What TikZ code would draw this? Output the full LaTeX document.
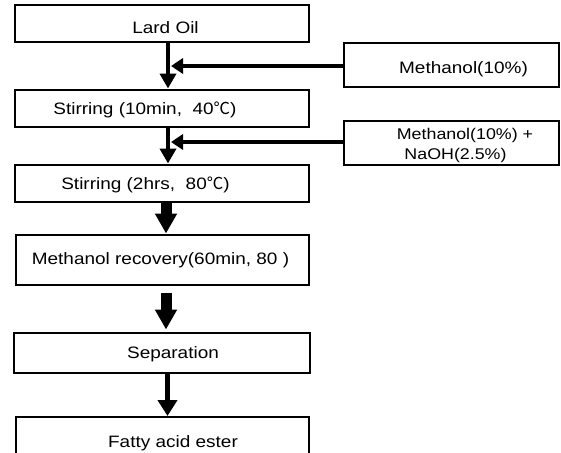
\documentclass[tikz,border=0pt]{standalone}
\usepackage{fontspec}
\setmainfont{Liberation Sans}[FakeStretch=1.15]
\newfontfamily\cjk{Noto Sans CJK KR}
\usetikzlibrary{arrows.meta}
\begin{document}
\begin{tikzpicture}[x=1pt,y=-1pt,
  box/.style={draw=black, line width=2pt, fill=white, inner sep=0pt},
  txt/.style={anchor=base, inner sep=0pt, font=\fontsize{16.5}{18}\selectfont},
  smalltxt/.style={anchor=base, inner sep=0pt, font=\fontsize{15.5}{17}\selectfont},
  thinarr/.style={line width=4pt, -{Triangle[length=15pt,width=16pt]}},
  thickarr/.style={line width=11pt, -{Triangle[length=20pt,width=21pt]}},
  midarr/.style={line width=5pt, -{Triangle[length=16pt,width=19pt]}},
  sidearr/.style={line width=4.5pt, -{Triangle[length=12pt,width=15pt]}}]
\useasboundingbox (0,0) rectangle (561,452);
% boxes
\node[box, minimum width=294pt, minimum height=37pt] (lard) at (161.5,24) {};
\node[box, minimum width=294pt, minimum height=37pt] (stir1) at (161.5,108) {};
\node[box, minimum width=294pt, minimum height=37pt] (stir2) at (161.5,183) {};
\node[box, minimum width=293pt, minimum height=50pt] (recov) at (162,259.5) {};
\node[box, minimum width=296pt, minimum height=40pt] (sep) at (161.5,352.5) {};
\node[box, minimum width=293pt, minimum height=60pt] (fatty) at (162,447) {};
\node[box, minimum width=215pt, minimum height=43pt] (meth1) at (451,65) {};
\node[box, minimum width=215pt, minimum height=44pt] (meth2) at (451,142.5) {};
% texts
\node[txt] (lardtxt) at (165.5,34) {Lard Oil};
\node[txt] (stir1txt) at (145,114) {Stirring (10min,\ \ 40{\cjk ℃})};
\node[txt] (stir2txt) at (145.5,189.5) {Stirring (2hrs,\ \ 80{\cjk ℃})};
\node[txt] (recovtxt) at (160.5,264) {Methanol recovery(60min, 80 )};
\node[txt] (septxt) at (173,358.5) {Separation};
\node[txt] (fattytxt) at (173,447.5) {Fatty acid ester};
\node[txt] (meth1txt) at (463.5,73.5) {Methanol(10\%)};
\node[smalltxt] (meth2atxt) at (465,139.5) {Methanol(10\%) +};
\node[smalltxt] (meth2btxt) at (455.5,159.5) {NaOH(2.5\%)};
% connectors
\coordinate (vx) at (168,0);
\coordinate (vy) at (166,0);
\coordinate (vz) at (167.5,0);
\coordinate (j1) at (171,66);
\coordinate (j2) at (171,142);
\draw[thinarr] (lard.south -| vx) -- (stir1.north -| vx);
\draw[thinarr] (stir1.south -| vx) -- (stir2.north -| vx);
\draw[thickarr] (stir2.south -| vy) -- (recov.north -| vy);
\draw[thickarr, shorten <=7pt, shorten >=2pt] (recov.south -| vy) -- (sep.north -| vy);
\draw[midarr] (sep.south -| vz) -- (fatty.north -| vz);
\draw[sidearr] (meth1.west |- j1) -- (j1);
\draw[sidearr] (meth2.west |- j2) -- (j2);
\end{tikzpicture}
\end{document}
